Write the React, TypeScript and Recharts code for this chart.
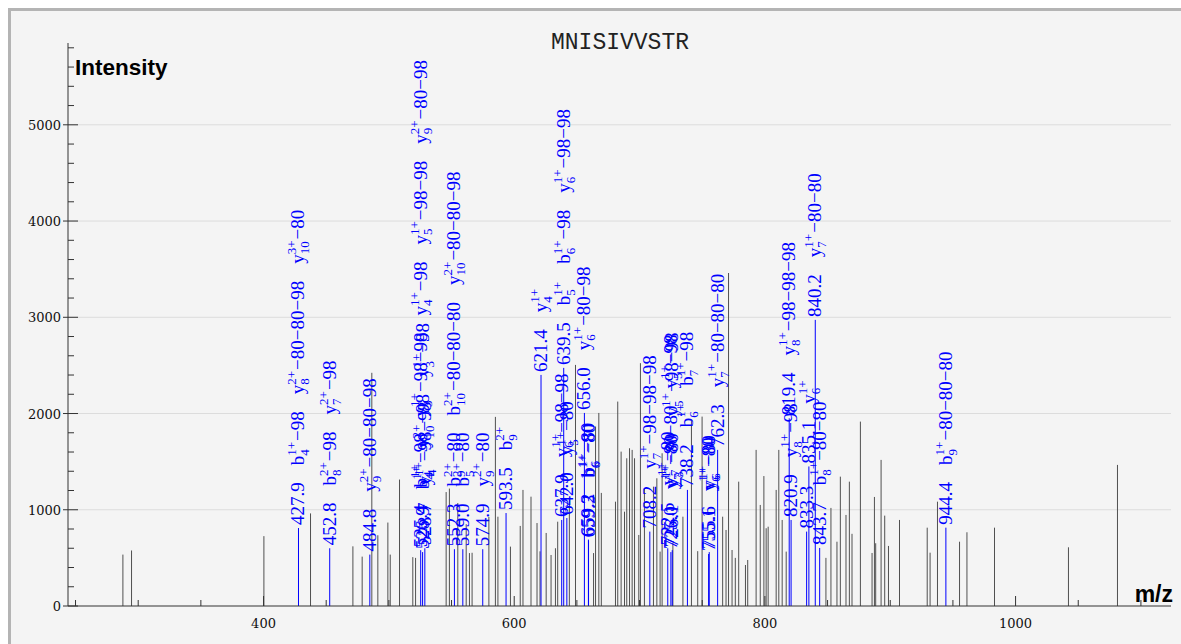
import { Bar, CartesianGrid, ComposedChart, XAxis, YAxis } from 'recharts';

const TITLE = 'MNISIVVSTR';

// unannotated peaks
const peakMz = [
  287.8, 294.7, 400.3, 437.5, 471.3, 478.7, 486.4, 491.2, 499.2, 501.1, 508.5, 519.1, 521.3,
  545.7, 548.3, 555.0, 561.7, 564.3, 566.4, 579.8, 585.0, 587.0, 597.0, 604.8, 607.0, 613.4,
  618.2, 620.6, 625.5, 629.4, 632.9, 634.7, 644.0, 648.9, 663.3, 664.9, 667.5, 669.5, 680.8,
  682.6, 685.3, 688.0, 689.8, 692.0, 694.1, 696.0, 699.4, 700.7, 703.9, 711.1, 713.8, 716.4,
  718.0, 726.6, 734.6, 741.4, 746.4, 749.9, 766.3, 769.0, 771.0, 773.8, 776.4, 779.1, 784.5,
  786.3, 793.0, 796.3, 799.2, 801.0, 802.6, 809.0, 811.1, 813.8, 817.0, 848.7, 852.7, 857.5,
  860.2, 864.7, 867.4, 869.5, 876.2, 885.5, 887.4, 888.4, 892.7, 895.6, 898.6, 907.4, 929.5,
  931.8, 937.7, 955.3, 961.2, 983.2, 1042.2, 1081.3,
];
const peakIntensity = [
  534, 577, 726, 962, 620, 513, 2423, 735, 867, 534, 1314, 508, 500,
  1184, 1220, 1070, 850, 550, 553, 925, 1965, 928, 617, 832, 1206, 1136,
  862, 568, 759, 530, 600, 876, 1100, 2505, 550, 1865, 2006, 1175, 1084,
  2124, 1604, 980, 1535, 1639, 1622, 1535, 738, 2523, 1224, 1240, 1327, 565,
  1587, 653, 928, 1930, 570, 1968, 928, 790, 3460, 582, 500, 1292, 426,
  478, 1622, 1050, 1350, 808, 824, 1206, 1622, 894, 565, 500, 1019, 668,
  1344, 946, 1292, 750, 1916, 551, 1133, 652, 1518, 939, 624, 894, 814,
  554, 1084, 668, 766, 814, 610, 1466,
];

// annotated peaks
const ionMz = [
  427.9, 452.8, 484.8, 525.4, 526.9, 528.7, 552.3, 559.0, 574.9, 593.5, 621.4, 637.9, 639.5,
  642.0, 656.0, 659.2, 659.3, 708.2, 722.5, 725.0, 726.1, 738.2, 755.1, 755.6, 762.3, 819.4,
  820.9, 833.3, 835.1, 840.2, 843.7, 944.4,
];
const ionIntensity = [
  810, 600, 534, 580, 560, 600, 590, 590, 590, 966, 2401, 894, 2474,
  914, 2006, 690, 680, 773, 600, 560, 580, 1206, 540, 560, 1622, 1950,
  894, 773, 1450, 2973, 603, 814,
];
const ionLabels = [
  ['427.9', 'b4^1+−98', 'y8^2+−80−80−98', 'y10^3+−80'],
  ['452.8', 'b8^2+−98', 'y7^2+−98'],
  ['484.8', 'y9^2+−80−80−98'],
  ['525.4', 'b4^1+−98', 'y3^1+−98−98', 'y4^1+−98', 'y5^1+−98−98', 'y9^2+−80−98'],
  ['526.9', 'b4^1+', 'y10^2+−98', 'y3^1+−98'],
  ['528.7', 'y4^1+−98−98'],
  ['552.3', 'b9^2+−80', 'b10^2+−80−80−80', 'y10^2+−80−80−98'],
  ['559.0', 'b5^2+−80'],
  ['574.9', 'y9^2+−80'],
  ['593.5', 'b9^2+'],
  ['621.4', 'y4^1+'],
  ['637.9', 'y6^1+−98−98'],
  ['639.5', 'b5^1+', 'b6^1+−98', 'y6^1+−98−98'],
  ['642.0', 'y5^1+−80'],
  ['656.0', 'y6^1+−80−98'],
  ['659.2', 'b6^1+−80'],
  ['659.3', 'b6^1+−80'],
  ['708.2', 'y7^1+−98−98−98'],
  ['722.5', 'y7^1+−80'],
  ['725.0', 'y7^1+−80−80', 'y5^1+−98'],
  ['726.1', 'y3^1+−80', 'y5^1+−98−98'],
  ['738.2', 'b6^1+', 'b7^1+−98'],
  ['755.1', 'y6^1+−80'],
  ['755.6', 'y6^1+−80'],
  ['762.3', 'y7^1+−80−80−80'],
  ['819.4', 'y8^1+−98−98−98'],
  ['820.9', 'y8^1+−98'],
  ['833.3'],
  ['835.1', 'y6^1+'],
  ['840.2', 'y7^1+−80−80'],
  ['843.7', 'b8^1+−80−80'],
  ['944.4', 'b9^1+−80−80−80'],
];

const xTicks = [250, 300, 350, 400, 450, 500, 550, 600, 650, 700, 750, 800, 850, 900, 950, 1000, 1050, 1100];
const yTicks = Array.from({ length: 30 }, (_, i) => i * 200);
const yGrid = [1000, 2000, 3000, 4000, 5000];

const peaks = [
  ...peakMz.map((mz, i) => ({ mz, intensity: peakIntensity[i], ion: false, labels: [] as string[] })),
  ...ionMz.map((mz, i) => ({ mz, intensity: ionIntensity[i], ion: true, labels: ionLabels[i] })),
];

const BLUE = '#0000ff';
const LABEL_FONT = '"Liberation Serif", "Times New Roman", serif';
const BIG = 19;
const SMALL = 13;

let ctx: CanvasRenderingContext2D | null = null;
function measure(s: string, size: number) {
  if (!ctx) ctx = document.createElement('canvas').getContext('2d');
  if (!ctx) return s.length * size * 0.5;
  ctx.font = `${size}px "Liberation Serif"`;
  return ctx.measureText(s).width;
}

function IonLabel({ x, y, text }: { x: number; y: number; text: string }) {
  const m = text.match(/^([a-z])(\d+)\^(\d+\+)(.*)$/);
  const tf = `translate(${x},${y}) rotate(-90)`;
  if (!m) {
    return (
      <text transform={tf} fontFamily={LABEL_FONT} fontSize={BIG} fill={BLUE}>
        {text}
      </text>
    );
  }
  const [, ion, sub, sup, rest] = m;
  const supW = measure(sup, SMALL);
  const subW = measure(sub, SMALL);
  return (
    <text transform={tf} fontFamily={LABEL_FONT} fontSize={BIG} fill={BLUE}>
      <tspan>{ion}</tspan>
      <tspan fontSize={SMALL} dy={-8}>{sup}</tspan>
      <tspan fontSize={SMALL} dx={-supW} dy={13}>{sub}</tspan>
      {rest && <tspan dx={Math.max(0, supW - subW) + 1} dy={-5}>{rest}</tspan>}
    </text>
  );
}

function labelWidth(text: string) {
  const m = text.match(/^([a-z])(\d+)\^(\d+\+)(.*)$/);
  if (!m) return measure(text, BIG);
  return measure(m[1], BIG) + Math.max(measure(m[3], SMALL), measure(m[2], SMALL)) + 1 + measure(m[4], BIG);
}

function Peak(props: any) {
  const { x, y, width, height, payload } = props;
  if (payload == null || height == null || isNaN(y)) return null;
  const cx = x + width / 2;
  let pos = y - 3;
  return (
    <g>
      <line x1={cx} x2={cx} y1={y} y2={y + height} stroke={payload.ion ? BLUE : '#505050'} strokeWidth={1} />
      {payload.ion &&
        payload.labels.map((t: string, i: number) => {
          const at = pos;
          pos -= labelWidth(t) + 17;
          return <IonLabel key={i} x={cx + 6} y={at} text={t} />;
        })}
    </g>
  );
}

function XTick(props: any) {
  const { x, y, payload } = props;
  const v = payload.value;
  const major = v % 200 === 0;
  return (
    <g>
      <line x1={x} x2={x} y1={y} y2={y - (major ? 10 : 6)} stroke="#333" />
      {major && (
        <text x={x} y={y + 22} textAnchor="middle" fontFamily="DejaVu Serif" fontSize={13} fill="#111">
          {v}
        </text>
      )}
    </g>
  );
}

function YTick(props: any) {
  const { x, y, payload } = props;
  const v = payload.value;
  if (v % 1000 === 0) {
    return (
      <g>
        <line x1={x - 5} x2={x + 10} y1={y} y2={y} stroke="#333" />
        <text x={x - 7} y={y + 5} textAnchor="end" fontFamily="DejaVu Serif" fontSize={13} fill="#111">
          {v}
        </text>
      </g>
    );
  }
  return <line x1={x} x2={x + 6} y1={y} y2={y} stroke="#333" />;
}

export default function App() {
  return (
    <div
      style={{
        position: 'fixed',
        left: 8,
        top: 8,
        right: 0,
        bottom: 0,
        borderTop: '3px solid #b4b4b4',
        borderLeft: '3px solid #b4b4b4',
        background: '#f4f4f4',
      }}
    >
      <ComposedChart
        width={1170}
        height={633}
        data={peaks}
        margin={{ top: 32, right: 10, left: 7, bottom: 8 }}
      >
        <CartesianGrid vertical={false} horizontalValues={yGrid} stroke="#dcdcdc" />
        <XAxis
          dataKey="mz"
          type="number"
          domain={[244, 1124]}
          ticks={xTicks}
          interval={0}
          height={30}
          tickSize={0}
          tickMargin={0}
          tickLine={false}
          tick={<XTick />}
          axisLine={{ stroke: '#333' }}
        />
        <YAxis
          type="number"
          domain={[0, 5850]}
          ticks={yTicks}
          interval={0}
          width={50}
          tickSize={0}
          tickMargin={0}
          tickLine={false}
          tick={<YTick />}
          axisLine={{ stroke: '#333' }}
        />
        <Bar dataKey="intensity" barSize={1} shape={<Peak />} isAnimationActive={false} />
      </ComposedChart>
      <svg
        width={1170}
        height={633}
        style={{ position: 'absolute', left: 0, top: 0, pointerEvents: 'none' }}
      >
        <text x={609} y={38} textAnchor="middle" fontFamily="Liberation Mono" fontSize={23} fill="#222">
          {TITLE}
        </text>
        <text x={64} y={64} fontFamily="Liberation Sans" fontWeight="bold" fontSize={22.5} fill="#000">
          Intensity
        </text>
        <text x={1162} y={591} textAnchor="end" fontFamily="Liberation Sans" fontWeight="bold" fontSize={23} fill="#000">
          m/z
        </text>
      </svg>
    </div>
  );
}
